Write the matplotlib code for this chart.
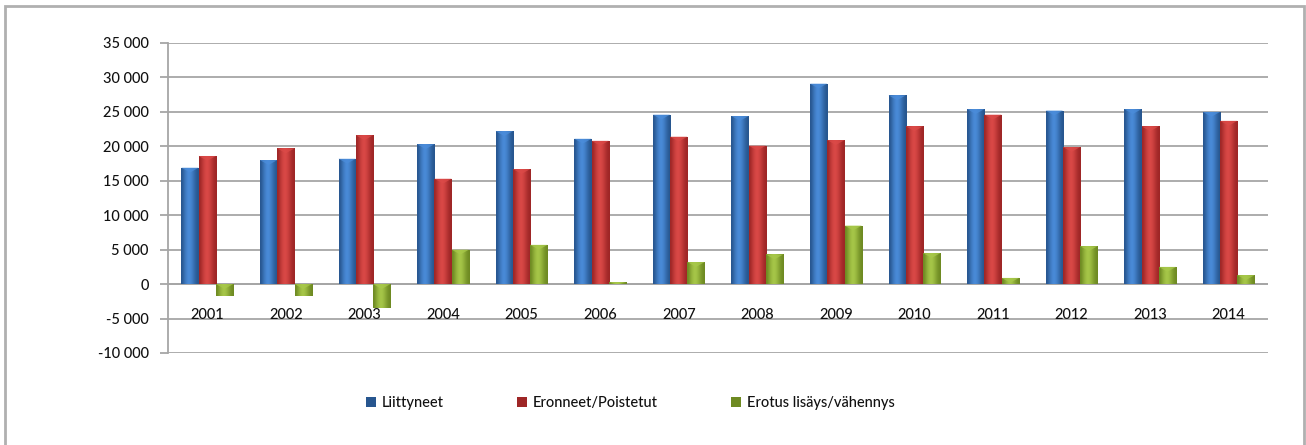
import numpy as np
import matplotlib
matplotlib.use("Agg")
from matplotlib import pyplot as plt
from matplotlib.colors import LinearSegmentedColormap
from matplotlib.patches import Rectangle, Polygon
from matplotlib.ticker import FuncFormatter

years = ["2001", "2002", "2003", "2004", "2005", "2006", "2007",
         "2008", "2009", "2010", "2011", "2012", "2013", "2014"]
liittyneet = [16900, 18000, 18200, 20300, 22200, 21100, 24600,
              24400, 29100, 27400, 25400, 25200, 25400, 25000]
eronneet = [18600, 19700, 21600, 15300, 16700, 20800, 21400,
            20100, 20900, 22900, 24600, 19900, 22900, 23700]
erotus = [-1700, -1700, -3400, 5000, 5700, 300, 3200,
          4300, 8500, 4500, 900, 5500, 2500, 1300]
series_names = ["Liittyneet", "Eronneet/Poistetut", "Erotus lisäys/vähennys"]

# (dark edge, light centre) for the bevelled look
shades = [("#27568f", "#4b8ddb"), ("#9e2626", "#dc4a48"), ("#6e8a22", "#a8c94a")]

plt.rcParams['font.family'] = ['Lato', 'DejaVu Sans']

fig = plt.figure(figsize=(13.06, 4.45), dpi=100)
ax = fig.add_axes([168 / 1306, 1 - 353 / 445, 1100 / 1306, 310 / 445])

x = np.arange(len(years))
w = 0.22
grad = np.array([[0.0, 0.45, 0.8, 1.0, 0.85, 0.55, 0.2, 0.0]])

for k, vals in enumerate([liittyneet, eronneet, erotus]):
    dark, light = shades[k]
    cmap = LinearSegmentedColormap.from_list("c%d" % k, [dark, light])
    bars = ax.bar(x + (k - 1) * w, vals, width=w, color=dark, zorder=3,
                  linewidth=0, label=series_names[k])
    for b in bars:
        x0, y0 = b.get_x(), b.get_y()
        bw, bh = b.get_width(), b.get_height()
        im = ax.imshow(grad, cmap=cmap, vmin=0, vmax=1, aspect="auto",
                       extent=(x0, x0 + bw, y0, y0 + bh), zorder=4,
                       interpolation="bicubic")
        im.set_clip_path(b)
        # lighter wedge at the top end of the bar
        cap = min(abs(bh), 700)
        if bh >= 0:
            top = y0 + bh
            tri = [(x0, top), (x0 + bw, top), (x0 + bw / 2, top - cap)]
        else:
            tri = [(x0, y0), (x0 + bw, y0), (x0 + bw / 2, y0 - cap)]
        ax.add_patch(Polygon(tri, closed=True, facecolor=light, alpha=0.75,
                             linewidth=0, zorder=5))

ax.set_xlim(-0.5, len(years) - 0.5)
ax.set_ylim(-10000, 35000)
ax.set_yticks(np.arange(-10000, 35001, 5000))
ax.yaxis.set_major_formatter(FuncFormatter(
    lambda v, p: "{:,}".format(int(v)).replace(",", " ")))
ax.grid(axis="y", color="#a6a6a6", linewidth=1.3, zorder=0)
ax.set_axisbelow(True)
ax.axhline(0, color="#a6a6a6", linewidth=1.3, zorder=2)
ax.set_xticks([])
for s in ["top", "right", "bottom"]:
    ax.spines[s].set_visible(False)
ax.spines["left"].set_color("#a6a6a6")
ax.spines["left"].set_linewidth(1.3)
ax.tick_params(axis="y", length=6, color="#a6a6a6", width=1.3,
               labelsize=10.5, pad=8, labelcolor="#111111")
for t in ax.get_yticklabels():
    t.set_fontweight("medium")

for i, yr in enumerate(years):
    ax.annotate(yr, (i, 0), xytext=(0, -17), textcoords="offset points",
                ha="center", va="top", fontsize=10.5, color="#111111",
                fontweight="medium", zorder=6)

handles = [Rectangle((0, 0), 1, 1, facecolor=shades[k][0]) for k in range(3)]
fig.legend(handles, series_names, loc="center", ncol=3,
           bbox_to_anchor=(630 / 1306, 1 - 403 / 445), frameon=False,
           prop={"size": 10.5, "weight": "medium"}, handlelength=0.7,
           handleheight=0.7, handletextpad=0.4, columnspacing=5.0,
           labelcolor="#111111")

fig.patches.append(Rectangle((5 / 1306, -0.05), 1299 / 1306, 1.05 - 6 / 445,
                             transform=fig.transFigure, fill=False,
                             edgecolor="#b0b0b0", linewidth=2))

fig.savefig("out.png", dpi=100)
